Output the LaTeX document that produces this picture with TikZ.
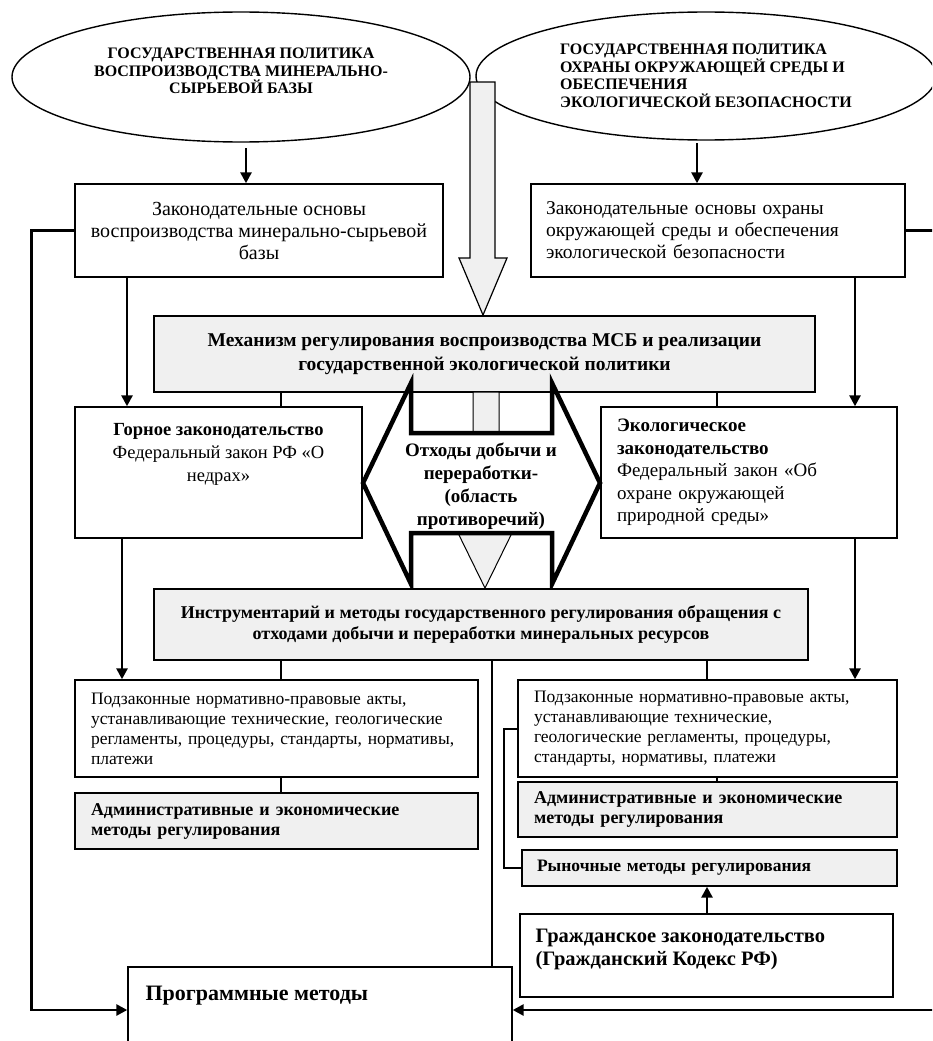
\documentclass[tikz,border=0pt]{standalone}
\usepackage{fontspec}
\setmainfont{Liberation Serif}
\usetikzlibrary{shapes.geometric,arrows.meta}

\begin{document}
\begin{tikzpicture}[x=1pt,y=-1pt,
        box/.style={draw,line width=1.4pt,fill=white,inner sep=0pt},
        grey/.style={box,fill=black!6},
        lbl/.style={inner sep=0pt},
        txt/.style={font=\fontsize{19.5}{22}\selectfont},
        btxt/.style={font=\bfseries\fontsize{18}{22}\selectfont},
        arr/.style={line width=2.6pt,-{Triangle[length=11pt,width=11pt]}},
        link/.style={line width=2.6pt},
        ell/.style={draw,ellipse,line width=1.4pt,inner sep=0pt,
            font=\bfseries\fontsize{16}{17.5}\selectfont}]
\useasboundingbox (0,0) rectangle (932,1041);
\clip (0,0) rectangle (932,1041);
\coordinate (redge) at (945,0);

% policies
\node[ell,minimum width=458pt,minimum height=130pt,align=center] (pol1) at (241,77)
    {ГОСУДАРСТВЕННАЯ ПОЛИТИКА\\ВОСПРОИЗВОДСТВА МИНЕРАЛЬНО-\\СЫРЬЕВОЙ БАЗЫ\\[-5pt]~};
\node[ell,minimum width=460pt,minimum height=128pt,align=left] (pol2) at (706,76)
    {ГОСУДАРСТВЕННАЯ ПОЛИТИКА\\ОХРАНЫ ОКРУЖАЮЩЕЙ СРЕДЫ И\\ОБЕСПЕЧЕНИЯ\\ЭКОЛОГИЧЕСКОЙ БЕЗОПАСНОСТИ};

% big grey arrow
\draw[line width=1.2pt,fill=black!6] (470,82) -- (495,82) -- (495,258) -- (507,258)
    -- (483,315) -- (459,258) -- (470,258) -- cycle;

% laws
\node[box,txt,minimum width=368pt,minimum height=93pt,align=center,
    font=\fontsize{20}{22}\selectfont] (zak1) at (259,230.5)
    {Законодательные основы\\воспроизводства минерально-сырьевой\\базы};
\node[box,txt,text width=344pt,inner xsep=15pt,minimum height=93pt,align=left] (zak2) at (718,230.5)
    {Законодательные основы охраны\\окружающей среды и обеспечения\\экологической безопасности};

\node[grey,minimum width=661pt,minimum height=76pt,align=center,
    font=\bfseries\fontsize{19.5}{24}\selectfont] (mech) at (484.5,354)
    {Механизм регулирования воспроизводства МСБ и реализации\\государственной экологической политики};

\node[box,minimum width=287pt,minimum height=131pt] (gornoe) at (218.5,472.5) {};
\node[lbl,align=center,font=\fontsize{18.5}{23}\selectfont,below=17pt] (gornoe-t) at (gornoe.north)
    {\textbf{Горное законодательство}\\Федеральный закон РФ «О\\недрах»};
\node[box,text width=264pt,inner xsep=16pt,minimum height=131pt,align=left,
    font=\fontsize{19}{22.5}\selectfont] (ekol) at (749,472.5)
    {\textbf{Экологическое}\\\textbf{законодательство}\\Федеральный закон «Об\\охране окружающей\\природной среды»};

% waste: grey arrow behind, double arrow on top
\draw[line width=1pt,fill=black!6] (473,392) -- (499,392) -- (499,533) -- (512,533)
    -- (485,588) -- (458,533) -- (473,533) -- cycle;
\draw[line width=4.5pt,fill=white,line join=miter] (411,433) -- (411,383) -- (363,483)
    -- (411,584) -- (411,533) -- (552,533) -- (552,584) -- (600,483) -- (552,383)
    -- (552,433) -- cycle;
\node[lbl,align=center,font=\bfseries\fontsize{19}{23}\selectfont] (otkhody) at (481,486)
    {Отходы добычи и\\переработки-\\(область\\противоречий)};

\node[grey,minimum width=654pt,minimum height=71pt,align=center,
    font=\bfseries\fontsize{18}{21}\selectfont] (instr) at (481,624.5)
    {Инструментарий и методы государственного регулирования обращения с\\отходами добычи и переработки минеральных ресурсов};

% by-laws and methods
\node[box,text width=371pt,inner xsep=16pt,minimum height=97pt,align=left,
    font=\fontsize{17.5}{20}\selectfont] (podz1) at (276.5,728.5)
    {Подзаконные нормативно-правовые акты,\\устанавливающие технические, геологические\\регламенты, процедуры, стандарты, нормативы,\\платежи};
\node[grey,text width=371pt,inner xsep=16pt,minimum height=56pt,align=left,
    font=\bfseries\fontsize{18}{20}\selectfont] (adm1) at (276.5,821)
    {Административные и экономические\\методы регулирования};
\node[box,text width=347pt,inner xsep=16pt,minimum height=97pt,align=left,
    font=\fontsize{17.5}{20}\selectfont] (podz2) at (707.5,728.5)
    {Подзаконные нормативно-правовые акты,\\устанавливающие технические,\\геологические регламенты, процедуры,\\стандарты, нормативы, платежи};
\node[grey,text width=347pt,inner xsep=16pt,minimum height=55pt,align=left,
    font=\bfseries\fontsize{18}{20}\selectfont] (adm2) at (707.5,809.5)
    {Административные и экономические\\методы регулирования};
\node[grey,text width=345pt,inner xsep=15pt,minimum height=36pt,align=left,
    font=\bfseries\fontsize{17.5}{18}\selectfont] (rynok) at (709.5,868)
    {Рыночные методы регулирования};

\node[box,minimum width=373pt,minimum height=83pt] (grazh) at (706.5,955.5) {};
\node[lbl,anchor=north west,align=left,font=\bfseries\fontsize{20.5}{23}\selectfont] (grazh-t)
    at ([shift={(16,16)}]grazh.north west)
    {Гражданское законодательство\\(Гражданский Кодекс РФ)};
\node[box,minimum width=384pt,minimum height=86pt] (prog) at (320,1010) {};
\node[lbl,anchor=north west,font=\bfseries\fontsize{22}{24}\selectfont] (prog-t)
    at ([shift={(18,20)}]prog.north west) {Программные методы};

% connectors
\draw[arr] (246,148) -- (246,0 |- zak1.north);
\draw[arr] (697,143) -- (697,0 |- zak2.north);
\draw[arr] (127,0 |- zak1.south) -- (127,0 |- gornoe.north);
\draw[arr] (855,0 |- zak2.south) -- (855,0 |- ekol.north);
\draw[arr] (122,0 |- gornoe.south) -- (122,0 |- podz1.north);
\draw[arr] (855,0 |- ekol.south) -- (855,0 |- podz2.north);
\draw[link] (281,0 |- mech.south) -- (281,0 |- gornoe.north);
\draw[link] (717,0 |- mech.south) -- (717,0 |- ekol.north);
\draw[link] (281,0 |- instr.south) -- (281,0 |- podz1.north);
\draw[link] (707,0 |- instr.south) -- (707,0 |- podz2.north);
\draw[link] (281,0 |- podz1.south) -- (281,0 |- adm1.north);
\draw[link] (717,0 |- podz2.south) -- (717,0 |- adm2.north);
\draw[link] (492,0 |- instr.south) -- (492,0 |- prog.north);
\draw[arr] (707,0 |- grazh.north) -- (707,0 |- rynok.south);
\draw[line width=2pt] (podz2.west) -- ++(-13,0) |- (rynok.west);
\draw[arr] (zak1.west) -- ++(-43,0) |- (prog.west);
\draw[arr] (zak2.east) -- (zak2.east -| redge) |- (prog.east);
\end{tikzpicture}
\end{document}
